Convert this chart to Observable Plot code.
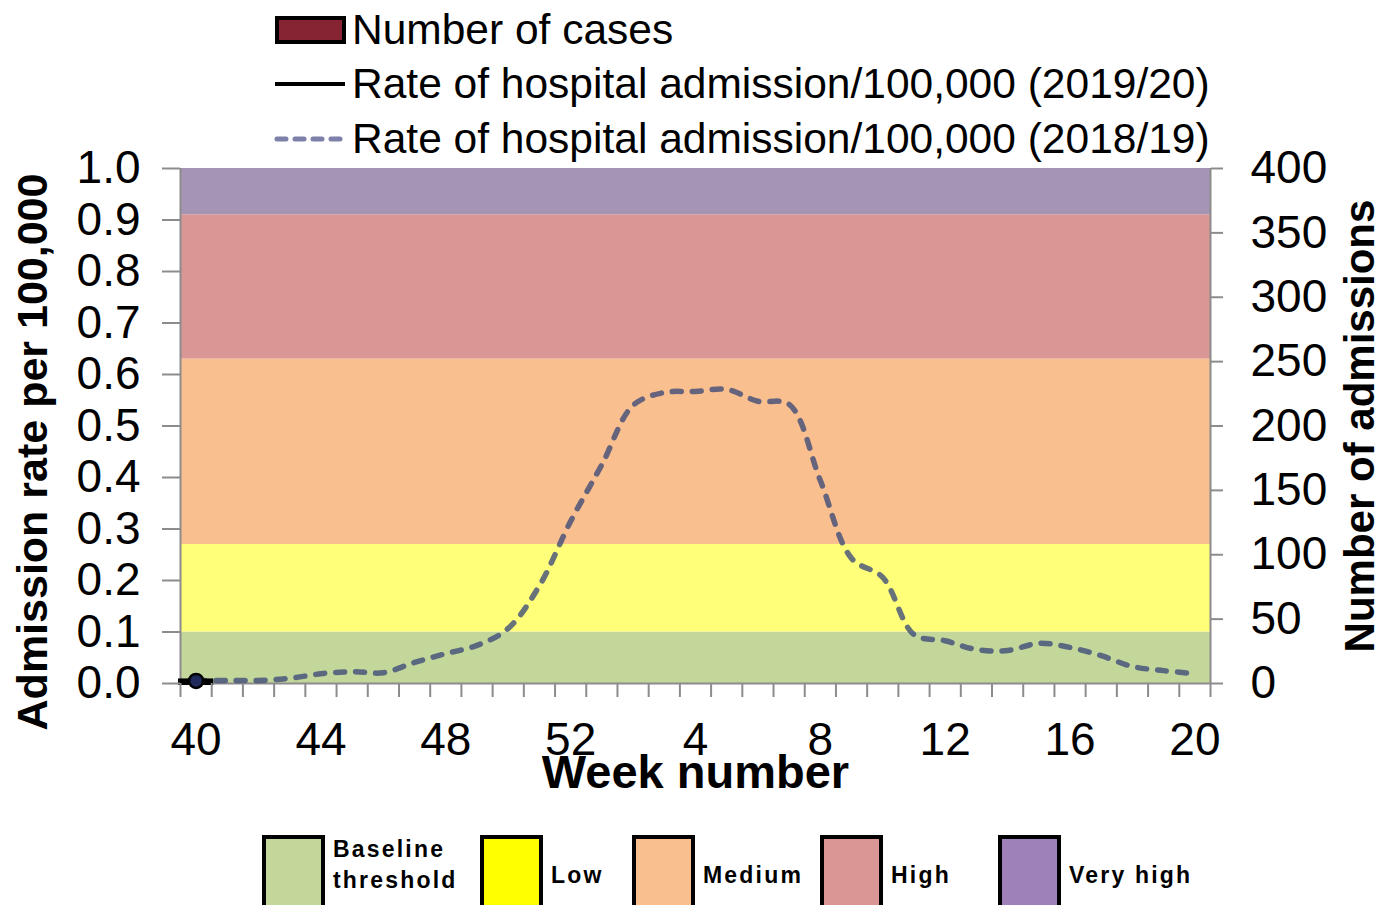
<!DOCTYPE html>
<html><head><meta charset="utf-8">
<script src="https://cdn.jsdelivr.net/npm/d3@7"></script>
<script src="https://cdn.jsdelivr.net/npm/@observablehq/plot@0.6"></script>
<style>
body{margin:0;background:#fff;font-family:"Liberation Sans",Arial,sans-serif;}
#wrap{position:relative;width:1383px;height:905px;overflow:hidden;background:#fff;}
#wrap svg{display:block;}
#wrap svg.overlay{position:absolute;left:0;}
</style></head><body><div id="wrap"></div>
<script>
// ---- data ----
const weeks = [40,41,42,43,44,45,46,47,48,49,50,51,52,1,2,3,4,5,6,7,8,9,10,11,12,13,14,15,16,17,18,19,20];
const rate1819 = [0.006,0.006,0.006,0.010,0.019,0.023,0.021,0.041,0.058,0.074,0.107,0.190,0.315,0.425,0.540,0.565,0.567,0.571,0.548,0.542,0.394,0.243,0.206,0.095,0.083,0.066,0.064,0.078,0.070,0.054,0.033,0.025,0.019];
const rate1920 = [0.005];
const cases1920 = [2];
const seriesNames = ["Number of cases","Rate of hospital admission/100,000 (2019/20)","Rate of hospital admission/100,000 (2018/19)"];
const levelNames = ["Baseline threshold","Low","Medium","High","Very high"];
const levelLow = [0,0.10,0.27,0.63,0.91];
const levelHigh = [0.10,0.27,0.63,0.91,1.0];
const levelFill = ["#c4d79b","#ffff7a","#f9bf8f","#da9694","#a694b5"];
const legendFill = ["#c4d79b","#ffff00","#fabf8f","#da9694","#9e81b9"];
const leftTicks = [0,0.1,0.2,0.3,0.4,0.5,0.6,0.7,0.8,0.9,1.0];
const rightTicks = [0,50,100,150,200,250,300,350,400];
const rightMax = 400;
const xLabelWeeks = [40,44,48,52,4,8,12,16,20];

// ---- derived tables ----
const s1819 = weeks.map((w,i)=>({i, v: rate1819[i]}));
const s1920 = rate1920.map((v,i)=>({i, v}));
const c1920 = cases1920.map((c,i)=>({i, v: c/rightMax}));
const levels = levelNames.map((n,k)=>({n, lo: levelLow[k], hi: levelHigh[k], fill: levelFill[k]}));
const xEdges = [-0.5, weeks.length-0.5];
const boundaries = d3.range(weeks.length+1).map(i=>i-0.5);
const labelIdx = xLabelWeeks.map(w=>weeks.indexOf(w));

const wrap = document.getElementById("wrap");
const FONT = "'Liberation Sans',Arial,sans-serif";

// ---- chart ----
const chart = Plot.plot({
  width: 1383, height: 905,
  marginTop: 168, marginBottom: 222, marginLeft: 180, marginRight: 173,
  style: {fontFamily: FONT, color: "#000", background: "#fff", overflow: "visible"},
  x: {type: "linear", domain: xEdges},
  y: {domain: [0,1]},
  marks: [
    Plot.rect(levels, {y1: "lo", y2: "hi", fill: "fill"}),
    Plot.ruleY([0], {stroke: "#8c8c8c", strokeWidth: 2}),
    Plot.ruleX(xEdges, {stroke: "#8c8c8c", strokeWidth: 2}),
    Plot.line(s1819, {x: "i", y: "v", curve: "catmull-rom", stroke: "#3c4a78", strokeOpacity: 0.78,
      strokeWidth: 5.5, strokeDasharray: "9,11", strokeLinecap: "round"}),
    Plot.rectY(c1920, {x1: d=>d.i-0.5, x2: d=>d.i+0.5, y: "v", fill: "#862433", stroke: "#000", strokeWidth: 4}),
    Plot.line(s1920, {x: "i", y: "v", stroke: "#000", strokeWidth: 4}),
    Plot.dot(s1920, {x: "i", y: "v", r: 7, fill: "#1f2a5a", stroke: "#000", strokeWidth: 2.5}),
    Plot.axisY(leftTicks, {anchor: "left", tickSize: 18, tickPadding: 22, tickFormat: d3.format(".1f"),
      fontSize: 46, stroke: "#8c8c8c", strokeWidth: 2, label: null}),
    Plot.axisY(rightTicks.map(v=>v/rightMax), {anchor: "right", tickSize: 12, tickPadding: 28,
      tickFormat: d=>String(Math.round(d*rightMax)), fontSize: 46, stroke: "#8c8c8c", strokeWidth: 2, label: null}),
    Plot.axisX(boundaries, {anchor: "bottom", tickSize: 14, tickFormat: ()=>"", stroke: "#8c8c8c", strokeWidth: 2, label: null}),
    Plot.axisX(labelIdx, {anchor: "bottom", tickSize: 0, tickPadding: 39, tickFormat: i=>String(weeks[i]),
      fontSize: 46, label: null}),
    Plot.text(["Week number"], {frameAnchor: "bottom", dy: 89, fontSize: 47, fontWeight: "bold", lineAnchor: "middle", textAnchor: "middle", fill: "#000"}),
    Plot.text(["Admission rate per 100,000"], {frameAnchor: "left", rotate: -90, dx: -147, dy: 26, fontSize: 43, fontWeight: "bold", textAnchor: "middle", lineAnchor: "middle", fill: "#000"}),
    Plot.text(["Number of admissions"], {frameAnchor: "right", rotate: -90, dx: 150, dy: 0, fontSize: 42, fontWeight: "bold", textAnchor: "middle", lineAnchor: "middle", fill: "#000"})
  ]
});
wrap.appendChild(chart);

// ---- top legend ----
const topLeg = d3.create("svg").attr("class","overlay").attr("width",1383).attr("height",166)
  .style("top","0px").style("font-family",FONT);
const rowY = [30,84,139];
topLeg.append("rect").attr("x",277).attr("y",18).attr("width",67).attr("height",24)
  .attr("fill","#862433").attr("stroke","#000").attr("stroke-width",4);
topLeg.append("line").attr("x1",275).attr("x2",345).attr("y1",rowY[1]).attr("y2",rowY[1])
  .attr("stroke","#000").attr("stroke-width",4);
topLeg.append("line").attr("x1",277).attr("x2",345).attr("y1",rowY[2]).attr("y2",rowY[2])
  .attr("stroke","#7d80a8").attr("stroke-width",5).attr("stroke-dasharray","9,9").attr("stroke-linecap","round");
seriesNames.forEach((s,k)=>{
  topLeg.append("text").attr("x",352).attr("y",rowY[k]+14).attr("font-size",42.5).attr("fill","#000").text(s);
});
wrap.appendChild(topLeg.node());

// ---- bottom legend ----
const botLeg = d3.create("svg").attr("class","overlay").attr("width",1383).attr("height",105)
  .style("top","800px").style("font-family",FONT);
const boxX = [264,482,634,822,1000];
levelNames.forEach((n,k)=>{
  botLeg.append("rect").attr("x",boxX[k]).attr("y",37).attr("width",59).attr("height",90)
    .attr("fill",legendFill[k]).attr("stroke","#000").attr("stroke-width",4);
  const t = botLeg.append("text").attr("font-size",23).attr("font-weight","bold").attr("letter-spacing",2.2).attr("fill","#000");
  const words = n === "Baseline threshold" ? ["Baseline","threshold"] : [n];
  if (words.length === 2) {
    t.append("tspan").attr("x",boxX[k]+69).attr("y",57).text(words[0]);
    t.append("tspan").attr("x",boxX[k]+69).attr("y",88).text(words[1]);
  } else {
    t.attr("x",boxX[k]+69).attr("y",83).text(n);
  }
});
wrap.appendChild(botLeg.node());
</script>
</body></html>
